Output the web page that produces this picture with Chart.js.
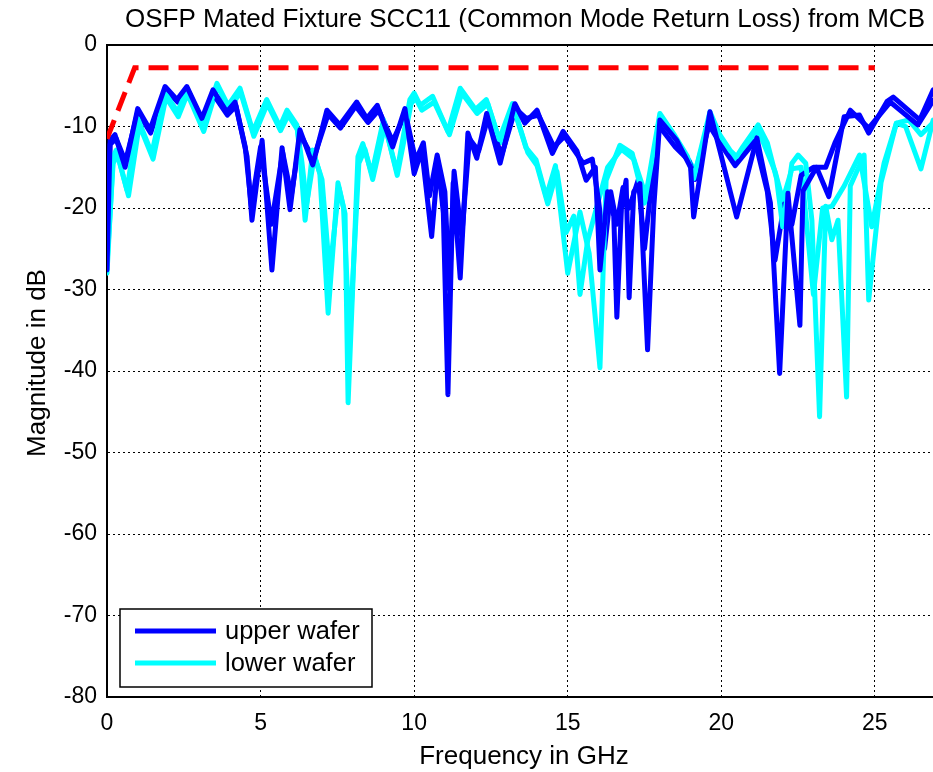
<!DOCTYPE html>
<html>
<head>
<meta charset="utf-8">
<script src="https://cdn.jsdelivr.net/npm/chart.js@4.4.0/dist/chart.umd.min.js"></script>
<style>
html,body{margin:0;padding:0;background:#fff;overflow:hidden;width:933px;height:772px;}
#wrap{position:absolute;left:0;top:0;width:970px;height:772px;}
canvas{display:block;}
</style>
</head>
<body>
<div id="wrap"><canvas id="c" width="970" height="772" style="width:970px;height:772px"></canvas></div>
<script>
// ---- Data ----
const titleText = "OSFP Mated Fixture SCC11 (Common Mode Return Loss) from MCB";
const xLabel = "Frequency in GHz";
const yLabel = "Magnitude in dB";
const legendLabels = ["upper wafer", "lower wafer"];
const xTicks = [0, 5, 10, 15, 20, 25];
const yTicks = [0, -10, -20, -30, -40, -50, -60, -70, -80];

const limitFreq = [0, 0.9, 25];
const limitDb = [-11.5, -2.8, -2.8];

const upperAFreq = [0,0.1,0.26,0.59,1.0,1.4,1.89,2.28,2.6,3.09,3.45,3.9,4.17,4.56,4.72,5.05,5.37,5.7,5.96,6.28,6.7,7.16,7.58,8.13,8.46,8.8,9.3,9.7,10.0,10.25,10.57,10.78,10.95,11.1,11.27,11.5,11.75,12.04,12.36,12.8,13.28,13.6,14.0,14.5,14.85,15.3,15.6,15.9,16.05,16.3,16.5,16.6,16.75,16.9,17.0,17.15,17.35,17.6,17.8,18.0,18.55,19.0,19.1,19.63,19.95,20.5,21.16,21.6,21.9,22.17,22.56,22.66,23.1,23.5,24.0,24.5,24.8,25.4,25.6,26.46,26.9];
const upperADb = [-27.6,-11.7,-11.0,-15.0,-7.8,-10.4,-5.1,-6.7,-5.1,-9.0,-5.5,-8.2,-7.0,-13.7,-21.5,-11.7,-27.6,-12.6,-20.2,-10.4,-14.7,-8.0,-9.8,-7.0,-9.0,-7.4,-12.5,-7.8,-15.8,-12.9,-23.5,-14.3,-20.6,-42.9,-16.9,-28.6,-10.8,-13.9,-8.4,-14.5,-7.2,-9.6,-8.0,-13.3,-10.6,-13.0,-16.6,-15.0,-27.6,-18.0,-21.0,-33.4,-20.0,-16.6,-31.0,-18.0,-17.0,-37.4,-20.0,-9.2,-11.7,-15.0,-21.1,-8.2,-12.9,-21.1,-11.4,-19.4,-40.3,-18.2,-34.4,-17.9,-15.0,-18.6,-8.8,-8.6,-10.8,-6.9,-6.4,-9.2,-5.5];

const upperBFreq = [0,0.1,0.3,0.6,1.0,1.42,1.9,2.3,2.62,3.1,3.45,3.92,4.2,4.5,4.7,5.0,5.35,5.72,6.0,6.3,6.72,7.2,7.6,8.1,8.5,8.85,9.3,9.72,10.05,10.3,10.5,10.75,11.0,11.15,11.3,11.55,11.8,12.1,12.4,12.85,13.3,13.65,14.05,14.55,14.9,15.5,15.8,16.0,16.2,16.4,16.6,16.8,17.0,17.3,17.5,17.7,17.95,18.5,18.95,19.15,19.6,19.95,20.45,21.1,21.5,21.75,22.05,22.3,22.6,23.0,23.4,23.7,24.2,24.8,25.5,26.4,26.9];
const upperBDb = [-26.0,-12.2,-11.5,-14.3,-8.2,-10.8,-5.5,-7.0,-5.4,-9.3,-6.0,-8.6,-7.5,-12.5,-19.8,-12.5,-22.0,-13.2,-18.5,-11.0,-14.0,-8.5,-10.2,-7.5,-9.5,-8.0,-11.8,-8.4,-14.2,-12.0,-18.5,-13.5,-18.0,-30.0,-15.5,-23.5,-11.5,-13.0,-9.0,-13.5,-7.8,-9.0,-8.6,-12.5,-11.2,-14.5,-14.0,-19.0,-25.0,-18.0,-22.0,-17.5,-20.0,-16.5,-25.0,-18.0,-9.8,-12.5,-14.2,-16.5,-9.8,-12.0,-14.8,-11.8,-18.0,-26.4,-19.5,-22.0,-16.0,-15.0,-15.0,-12.0,-8.0,-10.2,-7.0,-9.8,-6.8];

const lowerAFreq = [0,0.2,0.3,0.65,1.0,1.46,1.89,2.3,2.6,3.13,3.58,3.94,4.33,4.75,5.2,5.63,5.86,6.18,6.28,6.45,6.7,6.93,7.2,7.52,7.75,7.85,8.17,8.33,8.62,9.0,9.44,9.86,10.0,10.2,10.6,11.1,11.5,12.0,12.35,12.77,13.2,13.64,13.97,14.3,14.6,15.0,15.4,15.7,16.05,16.25,16.7,17.1,17.5,18.0,18.45,18.9,19.1,19.63,19.95,20.3,20.5,20.7,21.2,21.5,21.8,22.0,22.3,22.5,22.75,22.95,23.2,23.4,23.6,23.8,24.08,24.2,24.65,24.8,25.2,25.7,26.0,26.5,26.9];
const lowerADb = [-28.0,-13.7,-12.9,-17.8,-9.0,-13.3,-5.9,-8.2,-5.5,-10.0,-4.7,-7.4,-5.3,-10.6,-6.7,-10.0,-8.0,-9.8,-13.3,-21.5,-12.9,-15.8,-32.9,-16.9,-20.7,-43.9,-13.7,-12.1,-15.8,-9.2,-15.6,-6.7,-5.9,-7.4,-6.3,-10.6,-5.3,-7.9,-6.7,-11.6,-7.2,-12.6,-14.1,-18.6,-14.8,-28.0,-20.5,-25.6,-39.6,-16.6,-12.3,-13.3,-19.4,-8.4,-10.9,-13.7,-16.4,-8.2,-11.0,-13.0,-13.7,-12.5,-9.8,-12.0,-16.4,-22.3,-14.5,-13.5,-14.5,-21.5,-45.6,-19.8,-23.9,-21.5,-43.2,-17.3,-13.5,-31.3,-16.9,-9.6,-10.0,-15.2,-9.2];

const lowerBFreq = [0,0.2,0.35,0.7,1.05,1.5,1.92,2.32,2.62,3.15,3.6,3.96,4.35,4.78,5.22,5.65,5.9,6.2,6.35,6.5,6.75,7.0,7.25,7.55,7.7,7.9,8.2,8.4,8.65,9.05,9.45,9.9,10.05,10.25,10.65,11.15,11.55,12.05,12.4,12.8,13.25,13.7,14.0,14.35,14.65,14.95,15.2,15.4,15.65,15.9,16.3,16.75,17.15,17.55,18.05,18.5,18.95,19.15,19.65,20.0,20.5,21.2,21.75,22.0,22.3,22.6,23.0,23.3,23.6,24.0,24.5,24.9,25.3,25.7,26.1,26.5,26.9];
const lowerBDb = [-27.0,-14.5,-13.5,-18.5,-9.8,-14.0,-6.4,-8.8,-6.0,-10.6,-5.0,-7.9,-5.8,-11.2,-7.2,-10.5,-8.6,-10.4,-14.5,-19.5,-13.6,-16.5,-28.0,-17.5,-20.0,-36.0,-14.5,-12.8,-16.5,-9.8,-16.0,-7.2,-6.5,-8.0,-7.0,-11.0,-5.9,-8.4,-7.2,-12.0,-7.8,-13.2,-14.8,-19.5,-15.5,-23.0,-21.0,-30.6,-24.0,-20.5,-15.0,-12.8,-14.0,-18.6,-9.0,-11.5,-14.2,-15.5,-8.8,-11.5,-14.5,-10.4,-15.5,-19.0,-15.2,-15.0,-30.6,-20.0,-19.8,-17.3,-13.5,-22.3,-14.5,-9.6,-9.2,-11.0,-9.5];

// ---- Styling ----
const BLUE = '#0000ff';
const CYAN = '#00ffff';
const RED = '#ff0000';
const FONT = '"Liberation Sans", Arial, sans-serif';

function pts(xs, ys){ return xs.map((x,i)=>({x:x, y:ys[i]})); }
function trace(label, xs, ys, color){
  return {label:label, data:pts(xs,ys), borderColor:color, backgroundColor:color,
    borderWidth:5, pointRadius:0, tension:0, fill:false, borderJoinStyle:'round', borderCapStyle:'round'};
}

const datasets = [
  {label:'limit', data:pts(limitFreq, limitDb), borderColor:RED, borderWidth:5, borderDash:[20,10],
   pointRadius:0, tension:0, fill:false, borderCapStyle:'butt'},
  trace(legendLabels[0], upperAFreq, upperADb, BLUE),
  trace(legendLabels[1], lowerAFreq, lowerADb, CYAN),
  trace(legendLabels[0], upperBFreq, upperBDb, BLUE),
  trace(legendLabels[1], lowerBFreq, lowerBDb, CYAN)
];

const decor = {
  id:'decor',
  afterDraw(chart){
    const ctx = chart.ctx, a = chart.chartArea;
    ctx.save();
    ctx.strokeStyle = '#000'; ctx.lineWidth = 2; ctx.setLineDash([]);
    ctx.beginPath(); ctx.moveTo(a.left, a.top); ctx.lineTo(a.right, a.top); ctx.stroke();
    ctx.fillStyle = '#000';
    ctx.font = '26px ' + FONT; ctx.textAlign = 'center'; ctx.textBaseline = 'alphabetic';
    ctx.fillText(titleText, 525, 27);
    ctx.font = '26px ' + FONT;
    ctx.fillText(xLabel, 524, 764);
    ctx.save(); ctx.translate(45, 363); ctx.rotate(-Math.PI/2);
    ctx.fillText(yLabel, 0, 0); ctx.restore();
    const lx = 120, ly = 609, lw = 252, lh = 78;
    ctx.fillStyle = '#fff'; ctx.fillRect(lx, ly, lw, lh);
    ctx.strokeStyle = '#000'; ctx.lineWidth = 1.5; ctx.strokeRect(lx, ly, lw, lh);
    const rows = [[legendLabels[0], BLUE, 631], [legendLabels[1], CYAN, 663]];
    ctx.font = '25.5px ' + FONT; ctx.textAlign = 'left'; ctx.textBaseline = 'middle';
    rows.forEach(r => {
      ctx.strokeStyle = r[1]; ctx.lineWidth = 5;
      ctx.beginPath(); ctx.moveTo(135, r[2]); ctx.lineTo(216, r[2]); ctx.stroke();
      ctx.fillStyle = '#000'; ctx.fillText(r[0], 225, r[2] + 1);
    });
    ctx.restore();
  }
};

new Chart(document.getElementById('c'), {
  type:'line',
  data:{datasets:datasets},
  options:{
    responsive:false, animation:false, events:[],
    layout:{padding:{left:0, right:3, top:45, bottom:0}},
    plugins:{legend:{display:false}, title:{display:false}, tooltip:{enabled:false}},
    scales:{
      x:{type:'linear', min:0, max:28,
        afterFit(s){ s.height = 75; },
        afterBuildTicks(s){ s.ticks = xTicks.map(v=>({value:v})); },
        ticks:{color:'#000', font:{family:FONT, size:23}, padding:13, maxRotation:0, autoSkip:false},
        grid:{color:'#000', lineWidth:1, drawTicks:false},
        border:{color:'#000', width:2, dash:[2,3]}
      },
      y:{type:'linear', min:-80, max:0,
        afterFit(s){ s.width = 107; },
        afterBuildTicks(s){ s.ticks = yTicks.map(v=>({value:v})); },
        ticks:{color:'#000', font:{family:FONT, size:23}, padding:10, autoSkip:false},
        grid:{color:'#000', lineWidth:1, drawTicks:false},
        border:{color:'#000', width:2, dash:[2,3]}
      }
    }
  },
  plugins:[decor]
});
</script>
</body>
</html>
